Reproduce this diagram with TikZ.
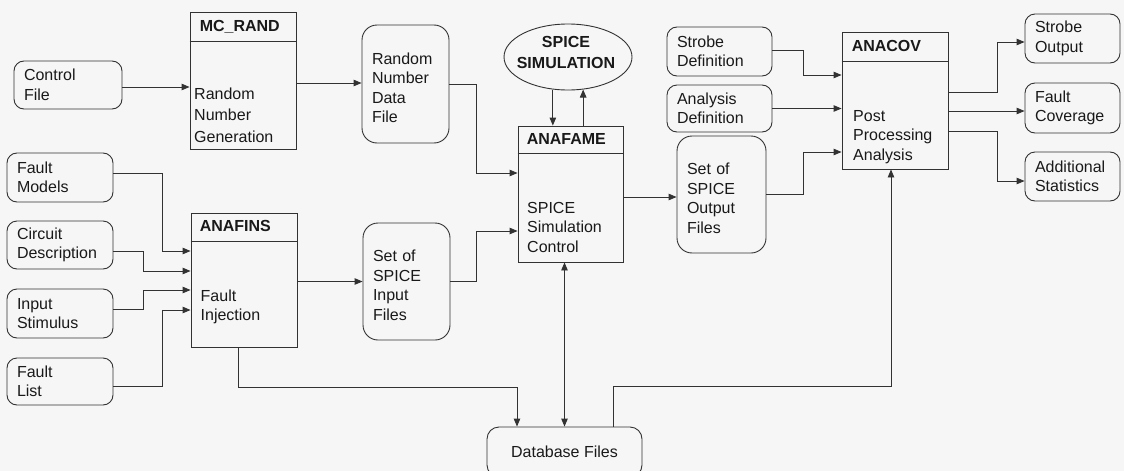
\documentclass[tikz,border=0pt]{standalone}
\usepackage{fontspec}
\setmainfont{Liberation Sans}
\usetikzlibrary{arrows.meta,shapes.geometric,calc}
\definecolor{bgc}{RGB}{246,246,246}
\definecolor{linec}{RGB}{50,50,50}
\definecolor{textc}{RGB}{25,25,25}
\newcommand\bodyfnt{\fontsize{16}{19.5}\selectfont}
\newcommand\titlefnt{\fontsize{16}{21}\selectfont\bfseries}
% lines set a little below the middle of their box
\newcommand\lowtext[1]{\raisebox{-4pt}[\height][\depth]{\parbox{\linewidth}{\raggedright #1}}}
\begin{document}
\begin{tikzpicture}[x=1pt,y=-1pt,
  conn/.style={draw=linec, line width=0.9pt},
  arr/.style={conn, -{Triangle[length=8pt,width=6.5pt]}},
  dblarr/.style={conn, {Triangle[length=8pt,width=6.5pt]}-{Triangle[length=8pt,width=6.5pt]}},
  filebox/.style={conn, rectangle, rounded corners=10pt, align=left, inner xsep=10pt,
    inner ysep=0pt, font=\bodyfnt, text=textc},
  tallfile/.style={filebox, rounded corners=15pt},
  procbox/.style={conn, rectangle, inner sep=0pt, minimum width=106pt},
  proctitle/.style={anchor=base west, inner sep=0pt, font=\titlefnt, text=textc},
  proctext/.style={anchor=north west, inner sep=0pt, align=left, font=\bodyfnt, text=textc},
]
\fill[bgc] (0,0) rectangle (1124,471);
\useasboundingbox (0,0) rectangle (1124,471);

% ---------- input files ----------
\node[filebox, text width=88pt, minimum height=48pt] (ctrl) at (68,85) {Control\\File};
\node[filebox, text width=86pt, minimum height=49pt] (fm) at (60,177.5) {Fault\\Models};
\node[filebox, text width=86pt, minimum height=48pt] (cd) at (60,245) {Circuit\\Description};
\node[filebox, text width=86pt, minimum height=49pt] (is) at (60,313.5) {Input\\Stimulus};
\node[filebox, text width=86pt, minimum height=47pt] (fl) at (60,381.5) {Fault\\List};

% ---------- MC_RAND ----------
\node[procbox, minimum height=137pt] (mcrand) at (243,80.5) {};
\draw[conn] ([yshift=-30pt]mcrand.north west) -- ([yshift=-30pt]mcrand.north east);
\node[proctitle] (mcrandT) at ([xshift=10pt,yshift=-20.3pt]mcrand.north west) {MC\_RAND};
\node[proctext, font=\fontsize{16}{21.5}\selectfont] (mcrandB) at (194,87.5) {Random\\Number\\Generation};

% ---------- ANAFINS ----------
\node[procbox, minimum height=134pt] (anafins) at (244,280) {};
\draw[conn] ([yshift=-29pt]anafins.north west) -- ([yshift=-29pt]anafins.north east);
\node[proctitle] (anafinsT) at ([xshift=9pt,yshift=-19pt]anafins.north west) {ANAFINS};
\node[proctext] (anafinsB) at (200.5,289.5) {Fault\\Injection};

% ---------- intermediate files ----------
\node[tallfile, text width=67pt, minimum height=118pt] (rnd) at (405.5,84) {\lowtext{Random\\Number\\Data\\File}};
\node[tallfile, text width=67pt, minimum height=117pt] (sin) at (406.5,281.5) {\lowtext{Set of\\SPICE\\Input\\Files}};

% ---------- SPICE simulator ----------
\node[conn, ellipse, minimum width=128pt, minimum height=66pt, inner sep=0pt] (spice) at (568,57) {};
\node[align=center, inner sep=0pt, font=\titlefnt, text=textc] (spiceT) at (566,52) {SPICE\\SIMULATION};

% ---------- ANAFAME ----------
\node[procbox, minimum width=105pt, minimum height=136pt] (anafame) at (570.5,194) {};
\draw[conn] ([yshift=-28pt]anafame.north west) -- ([yshift=-28pt]anafame.north east);
\node[proctitle] (anafameT) at ([xshift=9pt,yshift=-19pt]anafame.north west) {ANAFAME};
\node[proctext] (anafameB) at (527,202) {SPICE\\Simulation\\Control};

% ---------- database ----------
\node[filebox, rounded corners=12pt, align=center, minimum width=155pt, minimum height=50pt] (db) at (564.5,452) {Database Files};

% ---------- definitions and outputs of the simulation ----------
\node[filebox, text width=85pt, minimum height=49pt] (sd) at (719.5,51.5) {Strobe\\Definition};
\node[filebox, text width=85pt, minimum height=47pt] (ad) at (719.5,108.5) {Analysis\\Definition};
\node[tallfile, text width=69pt, minimum height=117pt] (sout) at (721.5,194.5) {\lowtext{Set of\\SPICE\\Output\\Files}};

% ---------- ANACOV ----------
\node[procbox, minimum height=137pt] (anacov) at (895,100.5) {};
\draw[conn] ([yshift=-30pt]anacov.north west) -- ([yshift=-30pt]anacov.north east);
\node[proctitle] (anacovT) at ([xshift=10pt,yshift=-20.3pt]anacov.north west) {ANACOV};
\node[proctext] (anacovB) at (853,110) {Post\\Processing\\Analysis};

% ---------- results ----------
\node[filebox, text width=75pt, minimum height=49pt] (so) at (1072.5,38.5) {Strobe\\Output};
\node[filebox, text width=75pt, minimum height=50pt] (fc) at (1072.5,108) {Fault\\Coverage};
\node[filebox, text width=75pt, minimum height=49pt] (as) at (1072.5,176.5) {Additional\\Statistics};

% ---------- connectors ----------
\draw[arr] ([yshift=-2pt]ctrl.east) -- ([yshift=-2pt]ctrl.east -| mcrand.west);
\draw[arr] ([yshift=1pt]rnd.west -| mcrand.east) -- ([yshift=1pt]rnd.west);
\draw[arr] (rnd.east) -- ++(27,0) |- ([yshift=21pt]anafame.west);
\draw[arr] (spice.245) -- (spice.245 |- anafame.north);
\draw[arr] (spice.295 |- anafame.north) -- (spice.295);
\draw[arr] (sin.east) -- ++(26,0) |- ([yshift=-37pt]anafame.west);
\draw[arr] (sin.west -| anafins.east) -- (sin.west);

\draw[arr] ([yshift=4.5pt]fm.east) -- ++(49,0) |- ([yshift=29pt]anafins.west);
\draw[arr] ([yshift=-6pt]cd.east) -- ++(30,0) |- ([yshift=9pt]anafins.west);
\draw[arr] ([yshift=4.5pt]is.east) -- ++(30,0) |- ([yshift=-10pt]anafins.west);
\draw[arr] ([yshift=-4.5pt]fl.east) -- ++(49,0) |- ([yshift=-30pt]anafins.west);

\draw[arr] ([xshift=-6pt]anafins.south) -- ++(0,40) -| ([xshift=-47.5pt]db.north);
\draw[dblarr] (db.north |- anafame.south) -- (db.north);
\draw[arr] ([xshift=48.5pt]db.north) -- ++(0,-40) -| ([xshift=-4pt]anacov.south);

\draw[arr] ([yshift=-2.5pt]sout.west -| anafame.east) -- ([yshift=-2.5pt]sout.west);
\draw[arr] ([yshift=1.5pt]sd.east) -- ++(31,0) |- ([yshift=25.5pt]anacov.west);
\draw[arr] (ad.east) -- (ad.east -| anacov.west);
\draw[arr] (sout.east) -- ++(37,0) |- ([yshift=-51.5pt]anacov.west);

\draw[arr] ([yshift=8.5pt]anacov.east) -- ++(49,0) |- ([yshift=-3.5pt]so.west);
\draw[arr] ([yshift=-3pt]fc.west -| anacov.east) -- ([yshift=-3pt]fc.west);
\draw[arr] ([yshift=-30.5pt]anacov.east) -- ++(49,0) |- ([yshift=-4.5pt]as.west);
\end{tikzpicture}
\end{document}
